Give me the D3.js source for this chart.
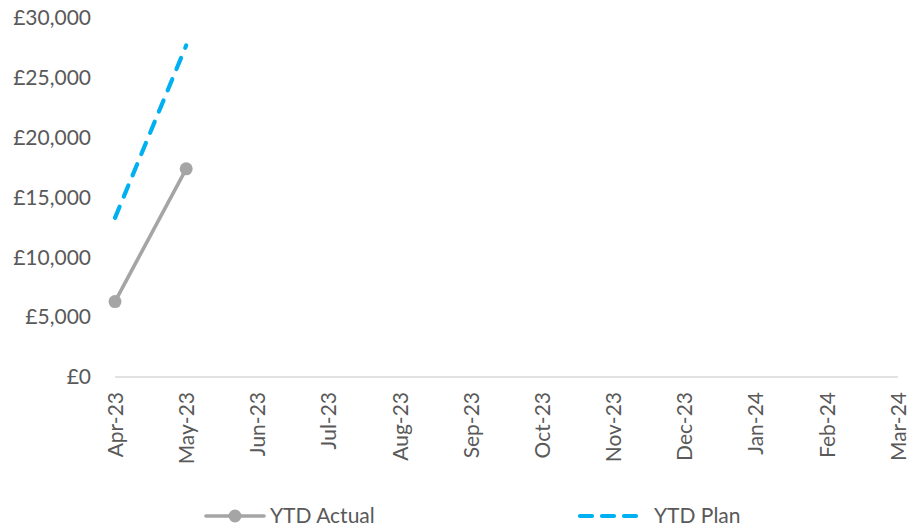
<!DOCTYPE html>
<html>
<head>
<meta charset="utf-8">
<script src="https://cdn.jsdelivr.net/npm/d3@7"></script>
<style>
  html, body { margin: 0; padding: 0; background: #fff; }
  svg { display: block; font-family: Lato, "Open Sans", sans-serif; }
</style>
</head>
<body>
<svg id="chart" width="910" height="528"></svg>
<script>
// Monthly categories for the financial year
const months = ["Apr-23", "May-23", "Jun-23", "Jul-23", "Aug-23", "Sep-23",
                "Oct-23", "Nov-23", "Dec-23", "Jan-24", "Feb-24", "Mar-24"];
// Year-to-date figures (only the months reported so far)
const ytdActual = [6300, 17400];
const ytdPlan = [13300, 27700];
// Value axis ticks
const yTicks = [0, 5000, 10000, 15000, 20000, 25000, 30000];

const svg = d3.select("#chart");
const margin = { left: 115, right: 12, top: 18, bottom: 151 };
const W = 910, H = 528;
const fontSize = "21px";
const planDash = "12 11";

const x = d3.scalePoint().domain(months).range([margin.left, W - margin.right]);
const y = d3.scaleLinear().domain([0, 30000]).range([H - margin.bottom, margin.top]);

const textColor = "#595959";
const fmt = v => "£" + d3.format(",")(v);

// Y axis labels (no axis line, no gridlines)
const yAxis = d3.axisLeft(y).tickValues(yTicks).tickFormat(fmt).tickSize(0).tickPadding(0);
const gy = svg.append("g").attr("transform", `translate(${margin.left - 24},0)`).call(yAxis);
gy.select(".domain").remove();
gy.selectAll("text").attr("fill", textColor).style("font-size", fontSize)
  .style("font-family", "Lato, sans-serif");

// X axis baseline and rotated month labels
const xAxis = d3.axisBottom(x).tickSize(0).tickPadding(0);
const gx = svg.append("g").attr("transform", `translate(0,${y(0)})`).call(xAxis);
gx.select(".domain").attr("stroke", "#d9d9d9").attr("stroke-width", 1.5)
  .attr("d", `M${margin.left},0H${W - margin.right}`);
gx.selectAll("text")
  .attr("fill", textColor)
  .style("font-size", fontSize)
  .style("font-family", "Lato, sans-serif")
  .attr("transform", "rotate(-90)")
  .attr("text-anchor", "end")
  .attr("x", -15)
  .attr("y", 0)
  .attr("dy", "0.35em");

const line = d3.line().x((d, i) => x(months[i])).y(d => y(d));

// YTD Plan: dashed blue
svg.append("path").datum(ytdPlan)
  .attr("d", line)
  .attr("fill", "none")
  .attr("stroke", "#00b0f0")
  .attr("stroke-width", 4.2)
  .attr("stroke-dasharray", planDash)
  .attr("stroke-linecap", "round");

// YTD Actual: solid grey with markers
svg.append("path").datum(ytdActual)
  .attr("d", line)
  .attr("fill", "none")
  .attr("stroke", "#a5a5a5")
  .attr("stroke-width", 3.6)
  .attr("stroke-linecap", "round");
svg.selectAll("circle.actual").data(ytdActual).enter().append("circle")
  .attr("class", "actual")
  .attr("cx", (d, i) => x(months[i]))
  .attr("cy", d => y(d))
  .attr("r", 6.5)
  .attr("fill", "#a5a5a5");

// Legend
const ly = 516;
const legend = svg.append("g");
legend.append("line").attr("x1", 206).attr("x2", 264).attr("y1", ly).attr("y2", ly)
  .attr("stroke", "#a5a5a5").attr("stroke-width", 3.6).attr("stroke-linecap", "round");
legend.append("circle").attr("cx", 235).attr("cy", ly).attr("r", 6.5).attr("fill", "#a5a5a5");
legend.append("text").attr("x", 270).attr("y", ly).attr("dy", "0.33em")
  .attr("fill", textColor).style("font-size", fontSize).text("YTD Actual");

legend.append("line").attr("x1", 580).attr("x2", 640).attr("y1", ly).attr("y2", ly)
  .attr("stroke", "#00b0f0").attr("stroke-width", 4.2)
  .attr("stroke-dasharray", "12 10").attr("stroke-linecap", "round");
legend.append("text").attr("x", 654).attr("y", ly).attr("dy", "0.33em")
  .attr("fill", textColor).style("font-size", fontSize).text("YTD Plan");
</script>
</body>
</html>
